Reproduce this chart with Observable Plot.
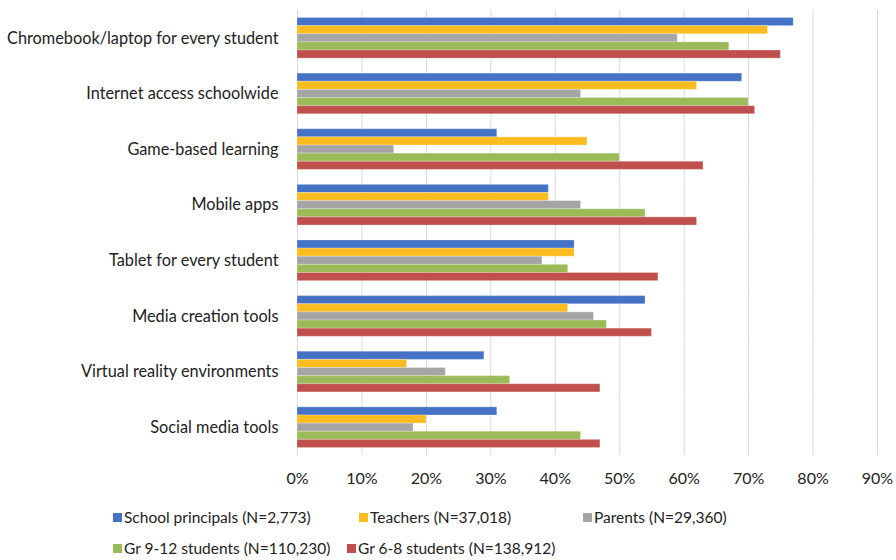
<!DOCTYPE html>
<html>
<head>
<meta charset="utf-8">
<script src="https://cdn.jsdelivr.net/npm/d3@7"></script>
<script src="https://cdn.jsdelivr.net/npm/@observablehq/plot@0.6"></script>
<style>
  html, body { margin: 0; padding: 0; background: #fff; }
  #wrap { position: relative; width: 896px; height: 560px; font-family: Lato, "Open Sans", sans-serif; color: #222; }
  #legend { position: absolute; left: 0; top: 0; width: 896px; height: 560px; pointer-events: none; }
  .item { position: absolute; font-size: 15.5px; white-space: nowrap; line-height: 18px; }
  .sw { position: absolute; width: 9px; height: 9px; }
</style>
</head>
<body>
<div id="wrap"><div id="chart"></div><div id="legend"></div></div>
<script>
const categories = [
  "Chromebook/laptop for every student",
  "Internet access schoolwide",
  "Game-based learning",
  "Mobile apps",
  "Tablet for every student",
  "Media creation tools",
  "Virtual reality environments",
  "Social media tools"
];
const series = [
  "School principals (N=2,773)",
  "Teachers (N=37,018)",
  "Parents (N=29,360)",
  "Gr 9-12 students (N=110,230)",
  "Gr 6-8 students (N=138,912)"
];
const colors = ["#4472C4", "#FBBC1F", "#A5A5A5", "#9BBB59", "#C0504D"];
const principals = [77, 69, 31, 39, 43, 54, 29, 31];
const teachers   = [73, 62, 45, 39, 43, 42, 17, 20];
const parents    = [59, 44, 15, 44, 38, 46, 23, 18];
const gr912      = [67, 70, 50, 54, 42, 48, 33, 44];
const gr68       = [75, 71, 63, 62, 56, 55, 47, 47];
const xTicks = [0, 10, 20, 30, 40, 50, 60, 70, 80, 90];

const valuesBySeries = [principals, teachers, parents, gr912, gr68];
const data = [];
categories.forEach((c, i) => {
  series.forEach((s, j) => data.push({category: c, series: s, value: valuesBySeries[j][i]}));
});

const chart = Plot.plot({
  width: 896,
  height: 495,
  marginTop: 10,
  marginBottom: 40,
  marginLeft: 297,
  marginRight: 19,
  style: {fontFamily: "Lato, 'Open Sans', sans-serif", fontSize: "16px", color: "#222", background: "#fff"},
  x: {domain: [0, 90], ticks: xTicks, tickFormat: d => d + "%", tickSize: 0, tickPadding: 17, label: null},
  y: {domain: series, paddingInner: 0, paddingOuter: 0.92, round: false, axis: null},
  fy: {domain: categories, padding: 0, round: false, label: null, axis: "left", tickSize: 0, tickPadding: 19},
  color: {domain: series, range: colors},
  marks: [
    Plot.gridX(xTicks, {stroke: "#d9d9d9", strokeOpacity: 1, strokeWidth: 1}),
    Plot.barX(data, {x: "value", y: "series", fy: "category", fill: "series", inset: 0, stroke: "#fff", strokeOpacity: 0.25, strokeWidth: 1})
  ]
});
chart.querySelectorAll("[aria-label='fy-axis tick label'] text, g[aria-label='fy-axis tick label']").forEach(el => el.setAttribute("font-size", "16.3px"));
document.getElementById("chart").appendChild(chart);

// legend layout: [swatch left, row center y]
const pos = [[113, 517], [359, 517], [583, 517], [113, 548], [347, 548]];
const legend = document.getElementById("legend");
series.forEach((s, i) => {
  const sw = document.createElement("div");
  sw.className = "sw";
  sw.style.background = colors[i];
  sw.style.left = pos[i][0] + "px";
  sw.style.top = (pos[i][1] - 4) + "px";
  legend.appendChild(sw);
  const t = document.createElement("div");
  t.className = "item";
  t.textContent = s;
  t.style.left = (pos[i][0] + 11) + "px";
  t.style.top = (pos[i][1] - 9) + "px";
  legend.appendChild(t);
});
</script>
</body>
</html>
